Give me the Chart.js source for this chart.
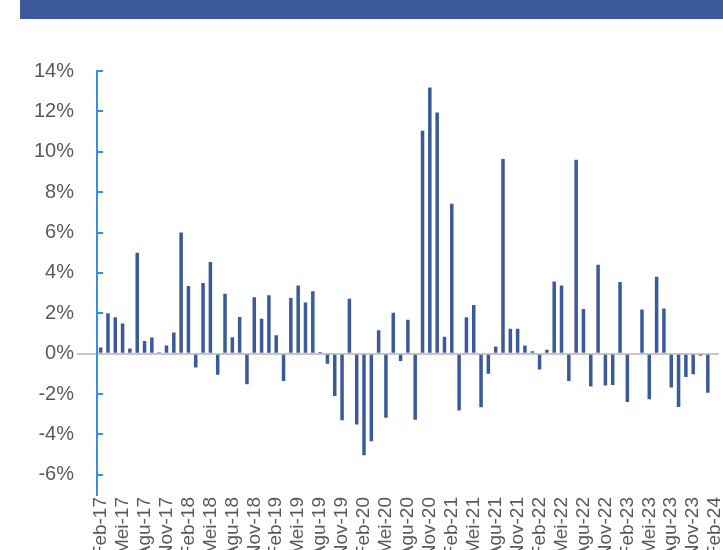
<!DOCTYPE html>
<html>
<head>
<meta charset="utf-8">
<script src="https://cdn.jsdelivr.net/npm/chart.js@4/dist/chart.umd.min.js"></script>
<style>
    html, body { margin: 0; padding: 0; background: #fff; overflow: hidden; }
    .banner { position: absolute; left: 20px; top: 0; width: 760px; height: 19px; background: #3c5a99; }
    .chart-box { position: absolute; left: 0; top: 0; width: 740px; height: 562px; }
</style>
</head>
<body>
<div class="banner"></div>
<div class="chart-box"><canvas id="growthChart"></canvas></div>

<script>
// month-on-month change, %
const months = [
    'Feb-17', 'Mar-17', 'Apr-17', 'Mei-17', 'Jun-17', 'Jul-17', 'Agu-17', 'Sep-17', 'Okt-17', 'Nov-17', 'Des-17',
    'Jan-18', 'Feb-18', 'Mar-18', 'Apr-18', 'Mei-18', 'Jun-18', 'Jul-18', 'Agu-18', 'Sep-18', 'Okt-18', 'Nov-18', 'Des-18',
    'Jan-19', 'Feb-19', 'Mar-19', 'Apr-19', 'Mei-19', 'Jun-19', 'Jul-19', 'Agu-19', 'Sep-19', 'Okt-19', 'Nov-19', 'Des-19',
    'Jan-20', 'Feb-20', 'Mar-20', 'Apr-20', 'Mei-20', 'Jun-20', 'Jul-20', 'Agu-20', 'Sep-20', 'Okt-20', 'Nov-20', 'Des-20',
    'Jan-21', 'Feb-21', 'Mar-21', 'Apr-21', 'Mei-21', 'Jun-21', 'Jul-21', 'Agu-21', 'Sep-21', 'Okt-21', 'Nov-21', 'Des-21',
    'Jan-22', 'Feb-22', 'Mar-22', 'Apr-22', 'Mei-22', 'Jun-22', 'Jul-22', 'Agu-22', 'Sep-22', 'Okt-22', 'Nov-22', 'Des-22',
    'Jan-23', 'Feb-23', 'Mar-23', 'Apr-23', 'Mei-23', 'Jun-23', 'Jul-23', 'Agu-23', 'Sep-23', 'Okt-23', 'Nov-23', 'Des-23',
    'Jan-24', 'Feb-24'
];

const growth = [
    0.3, 2.0, 1.8, 1.5, 0.25, 5.0, 0.63, 0.8, 0.07, 0.4, 1.05,
    6.0, 3.35, -0.68, 3.5, 4.54, -1.04, 2.97, 0.81, 1.82, -1.52, 2.79, 1.73,
    2.89, 0.91, -1.35, 2.76, 3.37, 2.54, 3.09, 0.08, -0.5, -2.1, -3.3, 2.72,
    -3.51, -5.03, -4.34, 1.16, -3.18, 2.03, -0.36, 1.68, -3.27, 11.04, 13.18, 11.95,
    0.84, 7.43, -2.82, 1.8, 2.41, -2.66, -0.99, 0.36, 9.64, 1.24, 1.24, 0.41,
    0.12, -0.79, 0.2, 3.58, 3.38, -1.35, 9.6, 2.21, -1.63, 4.41, -1.58, -1.55,
    3.55, -2.39, 0.05, 2.19, -2.26, 3.81, 2.24, -1.68, -2.64, -1.16, -1.02, -0.1,
    -1.93, null
];

const yTicks = [-6, -4, -2, 0, 2, 4, 6, 8, 10, 12, 14];
const yMin = -7;
const yMax = 14;

document.addEventListener('DOMContentLoaded', function() {
    initChart();
});

// short blue marks on the inner side of the value axis
const innerTicks = {
    id: 'innerTicks',
    afterDraw(chart) {
        const y = chart.scales.y;
        const ctx = chart.ctx;
        ctx.save();
        ctx.strokeStyle = '#3a8fd8';
        ctx.lineWidth = 2;
        y.ticks.forEach(t => {
            const py = Math.round(y.getPixelForValue(t.value));
            if (t.value === 0) return;
            ctx.beginPath();
            ctx.moveTo(y.right, py);
            ctx.lineTo(y.right + 6, py);
            ctx.stroke();
        });
        ctx.restore();
    }
};

function initChart() {
    const ctx = document.getElementById('growthChart').getContext('2d');
    const family = '"Liberation Sans", Arial, sans-serif';

    new Chart(ctx, {
        type: 'bar',
        data: {
            labels: months,
            datasets: [{
                data: growth,
                backgroundColor: '#3b5a9a',
                barPercentage: 0.48,
                categoryPercentage: 1
            }]
        },
        options: {
            responsive: true,
            maintainAspectRatio: false,
            animation: false,
            layout: { padding: { top: 71, right: 11, left: 0, bottom: 0 } },
            plugins: {
                legend: { display: false },
                tooltip: { enabled: false }
            },
            scales: {
                x: {
                    grid: { display: false, drawTicks: false },
                    border: { display: false },
                    ticks: {
                        autoSkip: false,
                        minRotation: 90,
                        maxRotation: 90,
                        padding: 2,
                        color: '#595959',
                        font: { family: family, size: 19 },
                        callback: function(val, i) {
                            return i % 3 === 0 ? this.getLabelForValue(val) : '';
                        }
                    },
                    afterFit: function(scale) { scale.height = 67; }
                },
                y: {
                    min: yMin,
                    max: yMax,
                    afterBuildTicks: function(scale) {
                        scale.ticks = yTicks.map(v => ({ value: v }));
                    },
                    afterFit: function(scale) { scale.width = 97; },
                    border: { display: true, color: '#3a8fd8', width: 2 },
                    grid: {
                        drawTicks: true,
                        tickLength: 20,
                        lineWidth: 2,
                        color: c => (c.tick && c.tick.value === 0) ? '#c6c6c6' : 'rgba(0,0,0,0)'
                    },
                    ticks: {
                        padding: 3,
                        color: '#595959',
                        font: { family: family, size: 20 },
                        callback: v => v + '%'
                    }
                }
            }
        },
        plugins: [innerTicks]
    });
}
</script>
</body>
</html>
